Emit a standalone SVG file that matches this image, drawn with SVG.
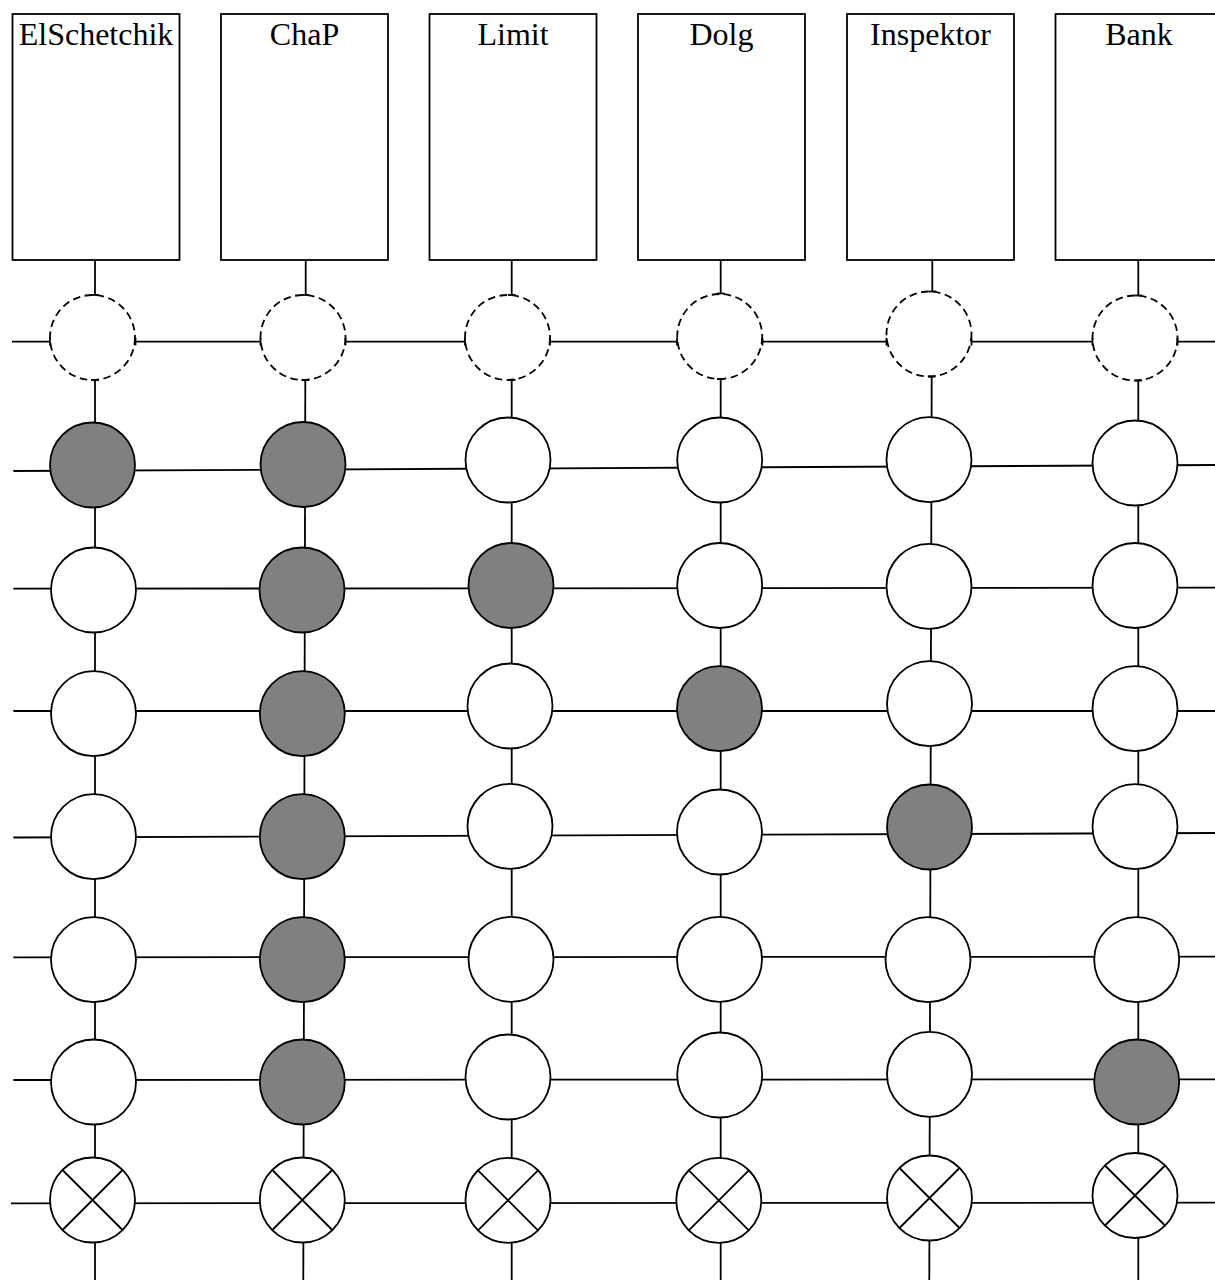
<svg xmlns="http://www.w3.org/2000/svg" width="1215" height="1280" viewBox="0 0 1215 1280">
<style>
.box{fill:#fff;stroke:#000;stroke-width:1.8}
.lbl{font-family:"Liberation Serif","Times New Roman",serif;font-size:32px;fill:#000;text-anchor:middle}
.ln{stroke:#000;stroke-width:1.8;fill:none}
.dash{fill:none;stroke:#000;stroke-width:1.8;stroke-dasharray:7.5 4.5}
.w{fill:#fff;stroke:#000;stroke-width:1.8}
.g{fill:#808080;stroke:#000;stroke-width:1.8}
.x{stroke:#000;stroke-width:1.8}
</style>
<defs>
<marker id="tick" markerWidth="4" markerHeight="10" refX="2" refY="5" orient="auto" markerUnits="userSpaceOnUse">
<path d="M2,1.2 L2,8.8" stroke="#000" stroke-width="1.8"/>
</marker>
<g id="xmark"><circle r="42.5" class="w"/><path class="x" d="M-30,-30 L30,30 M30,-30 L-30,30"/></g>
</defs>
<rect width="1215" height="1280" fill="#fff"/>
<g id="connectors">
<line class="ln" x1="95" y1="260" x2="95" y2="295" marker-end="url(#tick)"/>
<line class="ln" x1="305.7" y1="260" x2="305.7" y2="295" marker-end="url(#tick)"/>
<line class="ln" x1="511.7" y1="260" x2="511.7" y2="295" marker-end="url(#tick)"/>
<line class="ln" x1="720.7" y1="260" x2="720.7" y2="293.5" marker-end="url(#tick)"/>
<line class="ln" x1="932.3" y1="260" x2="932.3" y2="291.5" marker-end="url(#tick)"/>
<line class="ln" x1="1138.3" y1="260" x2="1138.3" y2="295.5" marker-end="url(#tick)"/>
<line class="ln" x1="12" y1="341.7" x2="50" y2="341.7" marker-end="url(#tick)"/>
<line class="ln" x1="135.5" y1="341.7" x2="260.5" y2="341.7" marker-start="url(#tick)" marker-end="url(#tick)"/>
<line class="ln" x1="345.5" y1="341.7" x2="465" y2="341.7" marker-start="url(#tick)" marker-end="url(#tick)"/>
<line class="ln" x1="550" y1="341.7" x2="677" y2="341.7" marker-start="url(#tick)" marker-end="url(#tick)"/>
<line class="ln" x1="762.5" y1="341.7" x2="886.5" y2="341.7" marker-start="url(#tick)" marker-end="url(#tick)"/>
<line class="ln" x1="971.5" y1="341.7" x2="1092.5" y2="341.7" marker-start="url(#tick)" marker-end="url(#tick)"/>
<line class="ln" x1="1177.5" y1="341.7" x2="1215" y2="341.7" marker-start="url(#tick)"/>
<line class="ln" x1="95" y1="380" x2="95" y2="1280" marker-start="url(#tick)"/>
<line class="ln" x1="305.3" y1="380" x2="303.3" y2="1280" marker-start="url(#tick)"/>
<line class="ln" x1="511.7" y1="380" x2="511.7" y2="1280" marker-start="url(#tick)"/>
<line class="ln" x1="720.7" y1="379" x2="720.7" y2="1280" marker-start="url(#tick)"/>
<line class="ln" x1="931.7" y1="376.5" x2="929.3" y2="1280" marker-start="url(#tick)"/>
<line class="ln" x1="1138.3" y1="380.5" x2="1138.3" y2="1280" marker-start="url(#tick)"/>
<line class="ln" x1="13.3" y1="471" x2="1215" y2="465"/>
<line class="ln" x1="13.3" y1="588.7" x2="1215" y2="587.7"/>
<line class="ln" x1="13.3" y1="711" x2="1215" y2="711"/>
<line class="ln" x1="13.3" y1="837.5" x2="1215" y2="833"/>
<line class="ln" x1="13.3" y1="957.3" x2="1215" y2="956.7"/>
<line class="ln" x1="13.3" y1="1080" x2="1215" y2="1079.3"/>
<line class="ln" x1="11" y1="1203.3" x2="1215" y2="1202.7"/>
</g>
<g id="box-ElSchetchik"><rect class="box" x="12.5" y="14" width="167" height="246"/><text class="lbl" x="96" y="45">ElSchetchik</text></g>
<g id="box-ChaP"><rect class="box" x="221" y="14" width="167" height="246"/><text class="lbl" x="304.5" y="45">ChaP</text></g>
<g id="box-Limit"><rect class="box" x="429.5" y="14" width="167" height="246"/><text class="lbl" x="513" y="45">Limit</text></g>
<g id="box-Dolg"><rect class="box" x="638" y="14" width="167" height="246"/><text class="lbl" x="721.5" y="45">Dolg</text></g>
<g id="box-Inspektor"><rect class="box" x="847" y="14" width="167" height="246"/><text class="lbl" x="930.5" y="45">Inspektor</text></g>
<g id="box-Bank"><rect class="box" x="1055.5" y="14" width="167" height="246"/><text class="lbl" x="1139" y="45">Bank</text></g>
<g id="col1-dashed"><circle class="dash" cx="92.5" cy="337.5" r="42.5"/></g>
<g id="col2-dashed"><circle class="dash" cx="303" cy="337.5" r="42.5"/></g>
<g id="col3-dashed"><circle class="dash" cx="507.5" cy="337.5" r="42.5"/></g>
<g id="col4-dashed"><circle class="dash" cx="719.7" cy="336.5" r="42.5"/></g>
<g id="col5-dashed"><circle class="dash" cx="929" cy="334" r="42.5"/></g>
<g id="col6-dashed"><circle class="dash" cx="1135" cy="338" r="42.5"/></g>
<g id="r1c1"><circle class="g" cx="92.5" cy="465" r="42.5"/></g>
<g id="r1c2"><circle class="g" cx="303" cy="464.5" r="42.5"/></g>
<g id="r1c3"><circle class="w" cx="508" cy="460" r="42.5"/></g>
<g id="r1c4"><circle class="w" cx="719.7" cy="460" r="42.5"/></g>
<g id="r1c5"><circle class="w" cx="929" cy="459.7" r="42.5"/></g>
<g id="r1c6"><circle class="w" cx="1135" cy="463" r="42.5"/></g>
<g id="r2c1"><circle class="w" cx="93.5" cy="590" r="42.5"/></g>
<g id="r2c2"><circle class="g" cx="302" cy="590" r="42.5"/></g>
<g id="r2c3"><circle class="g" cx="511" cy="585.5" r="42.5"/></g>
<g id="r2c4"><circle class="w" cx="719.7" cy="585.5" r="42.5"/></g>
<g id="r2c5"><circle class="w" cx="929" cy="586.3" r="42.5"/></g>
<g id="r2c6"><circle class="w" cx="1135" cy="585.5" r="42.5"/></g>
<g id="r3c1"><circle class="w" cx="93.5" cy="713.7" r="42.5"/></g>
<g id="r3c2"><circle class="g" cx="302.3" cy="713.7" r="42.5"/></g>
<g id="r3c3"><circle class="w" cx="510" cy="706" r="42.5"/></g>
<g id="r3c4"><circle class="g" cx="719.5" cy="708.7" r="42.5"/></g>
<g id="r3c5"><circle class="w" cx="929.5" cy="703.7" r="42.5"/></g>
<g id="r3c6"><circle class="w" cx="1135" cy="708.7" r="42.5"/></g>
<g id="r4c1"><circle class="w" cx="93.5" cy="836.7" r="42.5"/></g>
<g id="r4c2"><circle class="g" cx="302.3" cy="836.7" r="42.5"/></g>
<g id="r4c3"><circle class="w" cx="510" cy="826.3" r="42.5"/></g>
<g id="r4c4"><circle class="w" cx="719.5" cy="832" r="42.5"/></g>
<g id="r4c5"><circle class="g" cx="929.5" cy="827" r="42.5"/></g>
<g id="r4c6"><circle class="w" cx="1135" cy="826.7" r="42.5"/></g>
<g id="r5c1"><circle class="w" cx="93.5" cy="959.7" r="42.5"/></g>
<g id="r5c2"><circle class="g" cx="302.3" cy="959.7" r="42.5"/></g>
<g id="r5c3"><circle class="w" cx="511" cy="959.3" r="42.5"/></g>
<g id="r5c4"><circle class="w" cx="719.5" cy="959.3" r="42.5"/></g>
<g id="r5c5"><circle class="w" cx="928" cy="959.7" r="42.5"/></g>
<g id="r5c6"><circle class="w" cx="1136.7" cy="959.7" r="42.5"/></g>
<g id="r6c1"><circle class="w" cx="93.5" cy="1082" r="42.5"/></g>
<g id="r6c2"><circle class="g" cx="302.3" cy="1082" r="42.5"/></g>
<g id="r6c3"><circle class="w" cx="508" cy="1077" r="42.5"/></g>
<g id="r6c4"><circle class="w" cx="719.7" cy="1075" r="42.5"/></g>
<g id="r6c5"><circle class="w" cx="929.5" cy="1074.3" r="42.5"/></g>
<g id="r6c6"><circle class="g" cx="1136.7" cy="1082" r="42.5"/></g>
<g id="r7c1"><use href="#xmark" x="92.5" y="1200"/></g>
<g id="r7c2"><use href="#xmark" x="302.3" y="1200"/></g>
<g id="r7c3"><use href="#xmark" x="508" y="1200.3"/></g>
<g id="r7c4"><use href="#xmark" x="718.8" y="1200.3"/></g>
<g id="r7c5"><use href="#xmark" x="929.5" y="1198"/></g>
<g id="r7c6"><use href="#xmark" x="1135" y="1195.5"/></g>
</svg>
